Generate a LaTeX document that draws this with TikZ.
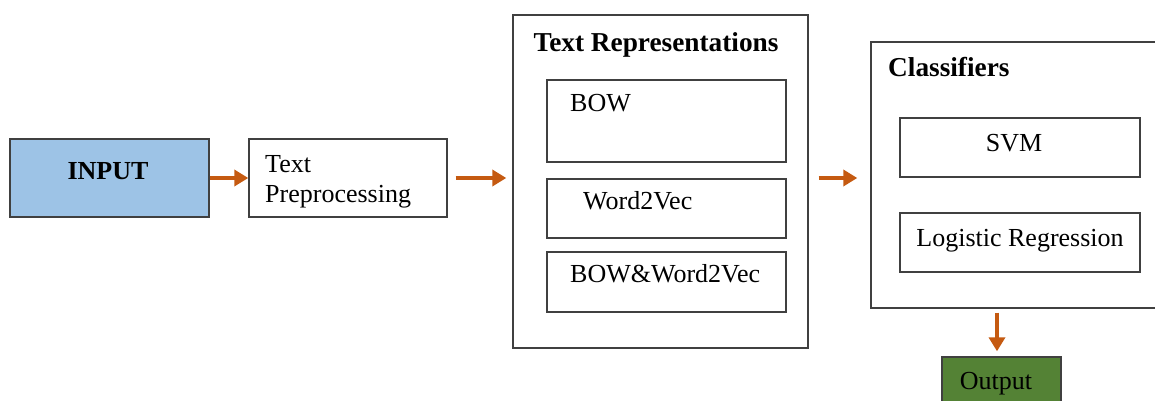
\documentclass[tikz,border=0pt]{standalone}
\usepackage{fontspec}
\setmainfont{Liberation Serif}
\usetikzlibrary{arrows.meta,calc}
\definecolor{arr}{HTML}{C55A11}
\definecolor{inblue}{HTML}{9DC3E6}
\definecolor{outgreen}{HTML}{548235}
\definecolor{edge}{HTML}{404040}
\begin{document}
\begin{tikzpicture}[x=1pt,y=-1pt,
  box/.style={draw=edge,line width=1.4pt,rectangle,inner sep=0pt},
  lbl/.style={inner sep=0pt,font=\fontsize{26}{30}\selectfont},
  blbl/.style={inner sep=0pt,font=\fontsize{27.3}{30}\selectfont\bfseries},
  flow/.style={draw=arr,line width=4.2pt,-{Triangle[length=14pt,width=16pt]}}]
\useasboundingbox (0,0) rectangle (1155,401);
\clip (0,0) rectangle (1155,401);
% boxes
\node[box,fill=inblue,minimum width=199pt,minimum height=78pt] (input) at (109.5,178) {};
\node[blbl,font=\fontsize{26}{30}\selectfont\bfseries] (inputt) at (108,171) {INPUT};
\node[box,minimum width=198pt,minimum height=78pt] (prep) at (348,178) {};
\node[lbl,anchor=base west] (prep1) at (265,172) {Text};
\node[lbl,anchor=base west] (prep2) at (265,202) {Preprocessing};
\node[box,minimum width=295pt,minimum height=333pt] (tr) at (660.5,181.5) {};
\node[blbl,anchor=base] (trt) at (656,52) {Text Representations};
\node[box,minimum width=239pt,minimum height=82pt] (bow) at (666.5,121) {};
\node[lbl,anchor=base west] (bowt) at (570,112) {BOW};
\node[box,minimum width=239pt,minimum height=59pt] (w2v) at (666.5,208.5) {};
\node[lbl,anchor=base west] (w2vt) at (583,209) {Word2Vec};
\node[box,minimum width=239pt,minimum height=60pt] (both) at (666.5,282) {};
\node[lbl,anchor=base west] (botht) at (570,282) {BOW\&Word2Vec};
\node[box,minimum width=310pt,minimum height=266pt] (cls) at (1026,175) {};
\node[blbl,anchor=base west] (clst) at (888,77) {Classifiers};
\node[box,minimum width=240pt,minimum height=59pt] (svm) at (1020,147.5) {};
\node[lbl,anchor=base] (svmt) at (1014,151) {SVM};
\node[box,minimum width=240pt,minimum height=59pt] (lr) at (1020,242.5) {};
\node[lbl,anchor=base] (lrt) at (1020,246) {Logistic Regression};
\node[box,fill=outgreen,minimum width=119pt,minimum height=70pt] (out) at (1001.5,392) {};
\node[lbl,anchor=base] (outt) at (996,389) {Output};
% arrows
\draw[flow] (input.east) -- (prep.west);
\draw[flow,shorten <=8pt,shorten >=6pt] (prep.east) -- (tr.west |- prep.east);
\draw[flow,shorten <=10pt,shorten >=13pt] (tr.east |- prep.east) -- (cls.west |- prep.east);
\coordinate (dtop) at ($(cls.south -| out.north)+(-4.5,0)$);
\coordinate (dbot) at ($(out.north)+(-4.5,0)$);
\draw[flow,shorten <=4pt,shorten >=5pt] (dtop) -- (dbot);
\end{tikzpicture}
\end{document}
